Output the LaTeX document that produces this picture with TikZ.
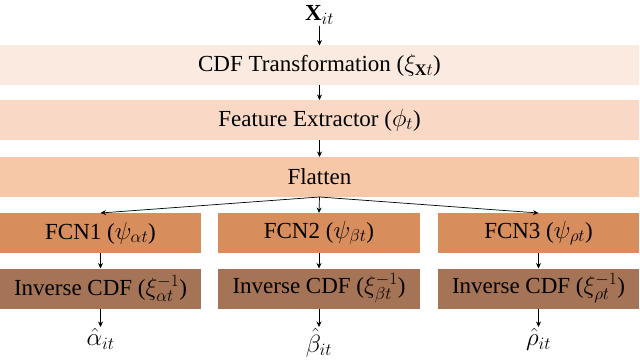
\documentclass[tikz,border=0pt]{standalone}
\usepackage{fontspec}
\setmainfont{Liberation Serif}
\usetikzlibrary{arrows.meta}
\definecolor{cdfc}{HTML}{FBEAE0}
\definecolor{featc}{HTML}{F9D9C6}
\definecolor{flatc}{HTML}{F6C8A8}
\definecolor{fcnc}{HTML}{D88D5D}
\definecolor{invc}{HTML}{A57456}
\tikzset{
  blk/.style={inner sep=0pt, outer sep=0pt, minimum height=40pt, font=\fontsize{23}{27}\selectfont, text=black},
  wide/.style={blk, minimum width=639pt},
  narrow/.style={blk, minimum width=201pt},
  lbl/.style={inner sep=1pt, font=\fontsize{23}{27}\selectfont},
  arr/.style={-{Stealth[length=5.5pt,width=5pt]}, line width=0.7pt, black},
}
\begin{document}
\begin{tikzpicture}[x=1pt,y=1pt]
\useasboundingbox (0,0) rectangle (640,-361);
\node[lbl] (x) at (319.5,-15) {$\mathbf{X}_{it}$};
\node[wide, fill=cdfc] (cdf) at (319.5,-65.5) {CDF Transformation ($\xi_{\mathbf{X}t}$)};
\node[wide, fill=featc] (feat) at (319.5,-120) {Feature Extractor ($\phi_t$)};
\node[wide, fill=flatc] (flat) at (319.5,-177) {Flatten};
\node[narrow, fill=fcnc] (f1) at (100.5,-233) {FCN1 ($\psi_{\alpha t}$)};
\node[narrow, fill=fcnc, minimum width=202pt] (f2) at (319,-233) {FCN2 ($\psi_{\beta t}$)};
\node[narrow, fill=fcnc] (f3) at (538.5,-233) {FCN3 ($\psi_{\rho t}$)};
\node[narrow, fill=invc] (i1) at (100.5,-288.5) {Inverse CDF ($\xi_{\alpha t}^{-1}$)};
\node[narrow, fill=invc, minimum width=202pt] (i2) at (319,-288.5) {Inverse CDF ($\xi_{\beta t}^{-1}$)};
\node[narrow, fill=invc] (i3) at (538.5,-288.5) {Inverse CDF ($\xi_{\rho t}^{-1}$)};
\node[lbl, anchor=north] (a) at (100.5,-327) {$\hat{\alpha}_{it}$};
\node[lbl, anchor=north] (b) at (319,-327) {$\hat{\beta}_{it}$};
\node[lbl, anchor=north] (r) at (538.5,-327) {$\hat{\rho}_{it}$};
\draw[arr] (x) -- (cdf);
\draw[arr] (cdf) -- (feat);
\draw[arr] (feat) -- (flat);
\draw[arr] (flat.south) -- (f1.north);
\draw[arr] (flat.south) -- (f2.north);
\draw[arr] (flat.south) -- (f3.north);
\draw[arr] (f1) -- (i1);
\draw[arr] (f2) -- (i2);
\draw[arr] (f3) -- (i3);
\draw[arr] (i1) -- (a);
\draw[arr] (i2) -- (b);
\draw[arr] (i3) -- (r);
\end{tikzpicture}
\end{document}
